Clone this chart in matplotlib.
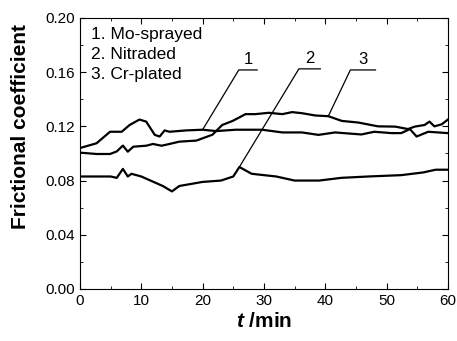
import numpy as np
import matplotlib.pyplot as plt
from matplotlib.ticker import MultipleLocator

plt.rcParams['font.family'] = ['Liberation Sans', 'DejaVu Sans']
plt.rcParams['mathtext.fontset'] = 'custom'
plt.rcParams['mathtext.bfit'] = 'Liberation Sans:bold:italic'

# Mo-sprayed
t1 = [0, 2.7, 4.9, 6.8, 8.1, 9.7, 10.8, 12.2, 13, 13.8, 14.6, 17.3, 20, 22.2, 25.4, 29.7,
      33, 36.2, 38.9, 41.6, 45.9, 48, 50.8, 52.4, 53.8, 54.9, 56.8, 60]
mu1 = [0.104, 0.1075, 0.116, 0.116, 0.121, 0.125, 0.1235, 0.1137, 0.1125, 0.117, 0.116, 0.117,
       0.1175, 0.1165, 0.1175, 0.1175, 0.1155, 0.1155, 0.1137, 0.1155, 0.114, 0.116, 0.115,
       0.115, 0.118, 0.1125, 0.116, 0.115]

# Nitraded
t2 = [0, 5, 6, 7, 7.8, 8.4, 10, 12, 13.5, 15, 16.2, 20, 23, 25, 26, 28, 32, 35, 39, 42.6, 47,
      52.4, 56, 58, 60]
mu2 = [0.083, 0.083, 0.082, 0.0886, 0.083, 0.085, 0.083, 0.079, 0.076, 0.072, 0.076, 0.079,
       0.080, 0.083, 0.090, 0.085, 0.083, 0.080, 0.080, 0.082, 0.083, 0.084, 0.086, 0.088, 0.088]

# Cr-plated
t3 = [0, 2.7, 4.9, 6, 7, 7.8, 8.7, 10.8, 11.9, 13.3, 14.6, 16.2, 19, 20.5, 21.6, 23.2, 24.9,
      27, 28.6, 30.8, 33, 34.6, 36.2, 38.4, 40.5, 42.7, 45.4, 48.6, 51.4, 53.5, 54.6, 56.2,
      57, 57.8, 59, 60]
mu3 = [0.1006, 0.0996, 0.0996, 0.1015, 0.1058, 0.1013, 0.105, 0.1057, 0.107, 0.1057, 0.107,
       0.1087, 0.1095, 0.112, 0.1138, 0.121, 0.124, 0.129, 0.129, 0.130, 0.129, 0.1305, 0.1297,
       0.128, 0.1275, 0.124, 0.1228, 0.120, 0.1198, 0.118, 0.1198, 0.121, 0.1235, 0.120,
       0.1215, 0.125]

fig = plt.figure(figsize=(4.57, 3.41), dpi=100)
ax = fig.add_axes([0.175, 0.1525, 0.805, 0.795])

ax.plot(t1, mu1, color='black', lw=1.6)
ax.plot(t2, mu2, color='black', lw=1.6)
ax.plot(t3, mu3, color='black', lw=1.6)

# leader lines with curve numbers
labels = [('1', (20, 0.1175), (25.9, 28.9), 0.1616),
          ('2', (26, 0.090), (35.7, 39.2), 0.1624),
          ('3', (40.5, 0.1275), (44.1, 48.2), 0.1616)]
for txt, (x0, y0), (xa, xb), yl in labels:
    ax.plot([x0, xa, xb], [y0, yl, yl], color='black', lw=0.9)
    ax.text((xa + xb) / 2, yl + 0.002, txt, ha='center', va='bottom', fontsize=12)

ax.text(1.8, 0.193, '1. Mo-sprayed\n2. Nitraded\n3. Cr-plated', ha='left', va='top',
        fontsize=12.5, linespacing=1.4)

ax.set_xlim(0, 60)
ax.set_ylim(0, 0.20)
ax.xaxis.set_major_locator(MultipleLocator(10))
ax.xaxis.set_minor_locator(MultipleLocator(5))
ax.yaxis.set_major_locator(MultipleLocator(0.04))
ax.yaxis.set_minor_locator(MultipleLocator(0.02))
ax.yaxis.set_major_formatter(plt.FormatStrFormatter('%.2f'))
ax.tick_params(which='both', direction='in', top=True, right=True, labelsize=11)
ax.tick_params(which='major', length=4)
ax.tick_params(which='minor', length=2)

ax.set_xlabel(r'$\mathbfit{t}$ /min', fontsize=15, fontweight='bold', labelpad=3)
ax.set_ylabel('Frictional coefficient', fontsize=15, fontweight='bold')
ax.yaxis.set_label_coords(-0.135, 0.6)

fig.savefig('out.png', dpi=100)
